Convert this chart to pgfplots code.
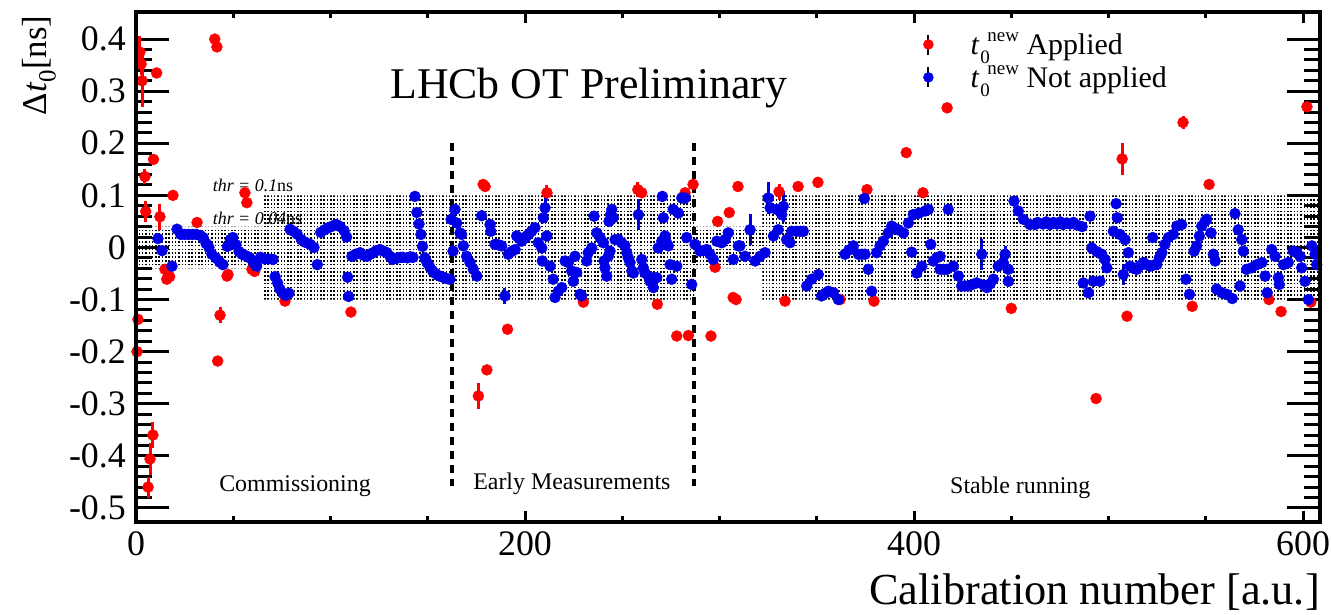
\documentclass[border=0pt]{standalone}
\usepackage{fontspec}
\setmainfont{Liberation Serif}
\usepackage{pgfplots}
\usepackage{pgfplotstable}
\pgfplotsset{compat=1.18}
\usetikzlibrary{patterns}
\definecolor{rootred}{RGB}{255,0,0}
\definecolor{rootblue}{RGB}{0,0,230}
\newcommand{\fs}[1]{\fontsize{#1}{#1}\selectfont}
\newcommand{\tnew}{\textit{t}\hspace{1bp}\rlap{\raisebox{-0.3em}{\fs{19}0}}\hspace{7bp}\raisebox{0.45em}{\fs{19}new}}
\pgfdeclarepatternformonly{rootdots}{\pgfqpoint{-1bp}{-1bp}}{\pgfqpoint{4bp}{4bp}}{\pgfqpoint{3.3bp}{3.8bp}}{%
  \pgfpathrectangle{\pgfqpoint{0bp}{0bp}}{\pgfqpoint{1.5bp}{1.5bp}}\pgfusepath{fill}}

\pgfplotstableread{
x y e
0.5 -0.200 0.010
1.0 -0.138 0.010
2.0 0.375 0.030
2.6 0.352 0.020
3.1 0.320 0.050
4.6 0.136 0.015
5.0 0.069 0.020
6.2 -0.460 0.020
7.2 -0.406 0.030
8.7 -0.360 0.025
9.0 0.169 0.008
10.6 0.335 0.005
12.3 0.059 0.025
14.9 -0.042 0.010
15.8 -0.061 0.010
17.3 -0.056 0.010
19.0 0.100 0.005
31.4 0.048 0.005
40.5 0.400 0.005
41.6 0.385 0.005
42.0 -0.218 0.005
43.2 -0.130 0.015
46.8 -0.055 0.005
47.3 -0.052 0.005
56.0 0.105 0.005
57.0 0.086 0.005
59.6 -0.042 0.005
61.0 -0.046 0.005
76.6 -0.103 0.005
110.5 -0.124 0.005
176.0 -0.285 0.025
178.5 0.121 0.005
179.5 0.117 0.005
180.4 -0.235 0.010
191.0 -0.157 0.005
211.3 0.105 0.015
230.0 -0.105 0.005
258.0 0.111 0.015
260.0 0.105 0.005
268.0 -0.109 0.005
278.0 -0.170 0.005
282.3 0.105 0.005
284.0 -0.169 0.005
286.4 0.121 0.015
295.6 -0.170 0.005
297.7 -0.038 0.005
299.0 0.050 0.005
305.0 0.067 0.005
307.0 -0.096 0.005
308.5 -0.100 0.005
309.5 0.117 0.005
330.6 0.107 0.015
333.7 -0.103 0.005
340.4 0.117 0.005
350.6 0.125 0.010
362.0 -0.100 0.005
375.8 0.111 0.005
379.4 -0.103 0.005
396.0 0.182 0.008
404.6 0.105 0.005
417.0 0.268 0.005
450.0 -0.117 0.005
493.6 -0.290 0.005
507.0 0.170 0.030
509.5 -0.132 0.005
538.3 0.240 0.012
543.0 -0.113 0.005
551.7 0.121 0.005
582.5 -0.100 0.005
588.7 -0.123 0.005
602.0 0.270 0.005
604.0 -0.105 0.005
}\redtab

\pgfplotstableread{
x y e
11.3 0.017 0
13.4 -0.006 0
18.5 -0.036 0
21.1 0.035 0
23.0 0.025 0
25.0 0.025 0
27.0 0.025 0
29.0 0.025 0
31.0 0.025 0
33.0 0.023 0
34.5 0.019 0
36.0 0.008 0
37.5 0.000 0
39.0 -0.013 0
41.0 -0.020 0
43.0 -0.028 0
44.7 -0.033 0
47.0 0.002 0
48.5 0.015 0
49.8 0.019 0
51.4 0.005 0
53.0 -0.008 0
54.5 -0.013 0
56.5 -0.016 0
58.5 -0.020 0
60.5 -0.030 0
62.0 -0.036 0
64.0 -0.019 0
66.0 -0.022 0
68.0 -0.022 0
70.4 -0.023 0
71.5 -0.056 0
72.8 -0.068 0
74.0 -0.080 0
75.5 -0.088 0
77.0 -0.092 0
78.6 -0.088 0
79.2 0.035 0
81.0 0.031 0
82.8 0.026 0
85.0 0.015 0
87.0 0.010 0
89.5 0.006 0
91.5 0.000 0
93.2 -0.033 0
95.0 0.029 0
97.0 0.034 0
99.0 0.038 0
101.0 0.041 0
103.0 0.044 0
105.0 0.040 0
107.0 0.032 0
108.3 0.020 0
108.8 -0.057 0
109.3 -0.094 0
111.0 -0.017 0
113.0 -0.013 0
115.2 -0.010 0
117.0 -0.015 0
118.8 -0.017 0
120.5 -0.013 0
121.9 -0.010 0
123.7 -0.006 0
125.4 -0.004 0
127.2 -0.007 0
129.0 -0.010 0
130.6 -0.017 0
132.0 -0.023 0
134.0 -0.021 0
136.0 -0.019 0
137.3 -0.019 0
139.5 -0.020 0
141.0 -0.018 0
142.4 -0.019 0
143.4 0.098 0.005
144.4 0.067 0
145.5 0.045 0
146.5 0.025 0
147.3 0.002 0
148.5 -0.020 0
149.6 -0.029 0
151.0 -0.037 0
152.5 -0.045 0
154.0 -0.050 0
155.5 -0.054 0
157.0 -0.056 0
158.5 -0.058 0
160.0 -0.060 0
161.4 -0.061 0
162.0 0.054 0
163.0 -0.007 0
164.0 0.073 0
164.9 0.047 0
166.6 0.028 0
167.4 0.025 0
168.3 0.003 0
170.0 -0.017 0
171.7 -0.029 0
173.4 -0.042 0
175.2 -0.055 0
177.7 0.061 0
182.0 0.044 0
182.4 0.031 0
184.6 0.006 0
186.3 0.005 0
188.0 0.003 0
189.7 -0.093 0.015
191.4 -0.013 0
193.0 -0.008 0
194.9 -0.004 0
195.7 0.022 0
197.0 0.017 0
198.3 0.012 0
199.6 0.017 0
200.9 0.022 0
202.2 0.027 0
203.4 0.031 0
205.1 0.038 0
206.8 0.009 0
208.6 -0.001 0
208.9 -0.026 0
209.4 0.057 0
210.3 0.076 0.030
211.2 0.022 0
212.9 -0.036 0
214.5 -0.061 0
215.4 -0.096 0
217.1 -0.084 0
218.9 -0.077 0
220.6 -0.026 0
222.3 -0.029 0
224.0 -0.045 0
224.8 -0.065 0
225.7 -0.017 0
226.6 -0.048 0
228.3 -0.090 0
229.1 -0.093 0
231.7 -0.026 0
232.5 -0.010 0
234.3 -0.001 0
235.5 0.060 0
236.9 0.028 0
238.6 0.019 0
240.3 0.009 0
240.6 -0.026 0
241.1 -0.039 0
242.0 -0.055 0
242.8 -0.017 0
243.2 0.050 0
243.7 -0.007 0
244.0 0.063 0
244.6 0.073 0
245.4 0.057 0
246.3 0.015 0
248.0 0.015 0
249.7 0.009 0
251.4 0.003 0
252.3 -0.010 0
253.1 -0.020 0
254.0 -0.029 0
254.9 -0.045 0
255.7 -0.049 0
258.3 0.063 0.030
260.0 -0.023 0
260.8 -0.039 0
261.7 -0.049 0
263.4 -0.055 0
264.3 -0.065 0
266.0 -0.077 0
267.7 -0.058 0
268.5 -0.001 0
270.3 0.012 0
270.6 0.098 0.010
271.1 0.057 0
272.0 0.022 0
272.8 0.009 0
273.7 0.003 0
274.6 -0.033 0
275.4 -0.061 0
276.2 0.073 0
278.0 -0.036 0
278.8 0.066 0
280.6 0.095 0
282.3 0.095 0
283.1 0.019 0
285.7 -0.071 0
287.4 0.006 0
290.0 -0.007 0
291.7 -0.006 0
293.4 -0.004 0
295.1 -0.013 0
296.8 -0.023 0
298.6 0.012 0
301.1 0.009 0
302.8 0.015 0
304.5 0.028 0
307.1 -0.023 0
309.7 0.003 0
310.5 0.003 0
313.1 -0.017 0
315.7 0.034 0.030
318.3 -0.026 0
320.8 -0.017 0
323.4 -0.010 0
325.1 0.095 0.030
326.0 0.076 0
327.7 0.022 0
329.4 0.073 0
330.2 0.034 0
332.0 0.063 0
332.8 0.079 0.030
334.5 0.015 0
336.2 0.009 0
337.1 0.031 0
339.6 0.031 0
341.5 0.031 0
343.1 0.031 0
344.8 -0.074 0
347.4 -0.061 0
350.8 -0.052 0
352.5 -0.093 0
354.3 -0.088 0
356.0 -0.084 0
358.5 -0.087 0
361.1 -0.100 0
364.5 -0.013 0
366.5 -0.005 0
368.8 0.003 0
371.4 -0.013 0
373.2 -0.013 0
374.5 0.094 0
374.8 -0.013 0
376.5 -0.042 0
378.2 -0.084 0
380.8 -0.010 0
382.5 0.003 0
384.2 0.012 0
386.8 0.028 0
388.5 0.041 0
390.2 0.037 0
391.9 0.034 0
394.5 0.028 0
397.1 0.047 0
398.8 -0.009 0
399.6 0.063 0
401.4 -0.049 0
402.6 0.066 0
404.0 -0.036 0
405.7 0.070 0
407.4 0.073 0
408.6 0.006 0
409.9 -0.026 0
411.6 -0.020 0
413.4 -0.017 0
413.4 -0.042 0
415.1 -0.042 0
416.8 -0.042 0
417.6 0.073 0
420.2 -0.036 0
422.8 -0.055 0
424.5 -0.074 0
426.2 -0.074 0
427.9 -0.074 0
430.0 -0.071 0
432.2 -0.068 0
434.8 -0.013 0.030
435.8 -0.072 0
437.4 -0.077 0
439.1 -0.070 0
440.8 -0.061 0
443.3 -0.036 0
445.9 -0.029 0
446.8 -0.013 0.015
448.5 -0.042 0
448.5 -0.065 0
451.4 0.089 0
453.6 0.070 0
456.2 0.054 0
459.6 0.044 0
462.2 0.044 0
463.5 0.048 0
466.3 0.045 0
468.0 0.049 0
469.9 0.044 0
471.7 0.048 0
473.5 0.045 0
475.2 0.049 0
476.6 0.044 0
478.5 0.047 0
480.2 0.045 0
482.0 0.048 0
483.8 0.043 0
486.4 0.040 0
487.0 -0.068 0
489.6 -0.087 0
490.5 0.060 0
491.4 -0.001 0
492.2 -0.065 0
494.0 -0.008 0
495.6 -0.065 0
496.5 -0.013 0
498.2 -0.023 0
499.1 -0.039 0
502.5 0.031 0
503.9 0.084 0
504.5 0.057 0
505.9 0.025 0
507.6 -0.052 0.020
508.5 0.015 0
510.2 -0.010 0
511.1 -0.036 0
512.8 -0.040 0
514.5 -0.042 0
516.2 -0.035 0
517.9 -0.029 0
519.6 -0.033 0
521.3 -0.036 0
522.7 0.019 0
523.0 -0.034 0
524.8 -0.033 0
526.1 -0.020 0
527.4 -0.010 0
529.0 0.006 0
530.8 0.019 0
533.3 0.025 0
535.1 0.041 0
537.6 0.044 0
539.8 -0.061 0
541.6 -0.090 0
544.0 -0.007 0
545.3 0.003 0
546.7 0.022 0
547.9 0.041 0
549.6 0.050 0
550.5 0.054 0
552.7 0.028 0
553.9 -0.013 0
554.8 -0.026 0
555.6 -0.080 0
558.2 -0.087 0
560.8 -0.090 0
563.6 -0.098 0
565.0 0.065 0
566.7 0.034 0
567.6 -0.074 0
568.5 0.015 0
569.3 -0.007 0
571.0 -0.042 0
573.6 -0.039 0
576.2 -0.033 0
578.8 -0.029 0
580.5 -0.055 0
581.6 -0.087 0
583.9 -0.004 0
585.6 -0.017 0
587.3 -0.058 0
587.8 -0.071 0
589.9 -0.033 0
592.4 -0.029 0
595.0 -0.007 0
596.8 -0.010 0
598.5 -0.017 0
599.3 -0.039 0
601.0 -0.065 0
602.7 -0.100 0
604.5 0.003 0
606.2 -0.013 0
607.0 -0.033 0
}\bluetab

\begin{document}
\begin{tikzpicture}
\path[use as bounding box] (0bp,0bp) rectangle (1331bp,615bp);
\pgfplotsset{
  commonax/.style={
    at={(136bp,93bp)}, anchor=south west, scale only axis,
    width=1184bp, height=510bp,
    xmin=0, xmax=608.7, ymin=-0.527, ymax=0.452,
    axis line style={line width=3.5bp, black},
    tick style={line width=3bp, black},
    tick align=inside,
  }
}
% axis carrying the data and the y ticks
\begin{axis}[commonax,
  xtick=\empty,
  ytick={-0.5,-0.4,-0.3,-0.2,-0.1,0,0.1,0.2,0.3,0.4},
  yticklabels={-0.5,-0.4,-0.3,-0.2,-0.1,0,0.1,0.2,0.3,0.4},
  minor y tick num=4,
  major tick length=33bp, minor tick length=16bp,
  yticklabel style={font=\fs{36}, inner sep=0pt, xshift=-10bp},
  ylabel={Δ\textit{t}\raisebox{-0.25em}{\fs{25}0}[ns]},
  every axis y label/.style={at={(axis description cs:-0.0752,1)}, rotate=90, anchor=base east, font=\fs{35}},
  legend style={draw=none, fill=none, at={(axis description cs:0.6647,0.962)}, anchor=north west,
    font=\fs{30}, row sep=7bp, column sep=36bp, inner sep=0pt, nodes={inner sep=1bp}},
  legend cell align=left,
]
\addplot[only marks, mark=*, mark size=5.5bp, color=rootred,
  mark options={draw=none, fill=rootred},
  legend image code/.code={\draw[black, line width=1.8bp] (0bp,-10bp) -- (0bp,10bp); \fill[rootred] (0bp,0bp) circle (5bp);},
  error bars/.cd, y dir=both, y explicit, error mark=none,
  error bar style={line width=3bp, rootred}]
  table[x=x, y=y, y error=e] {\redtab};
\addlegendentry{\tnew\ Applied}
\addplot[only marks, mark=*, mark size=5.5bp, color=rootblue,
  mark options={draw=none, fill=rootblue},
  legend image code/.code={\draw[black, line width=1.8bp] (0bp,-10bp) -- (0bp,10bp); \fill[rootblue] (0bp,0bp) circle (5bp);},
  error bars/.cd, y dir=both, y explicit, error mark=none,
  error bar style={line width=3bp, rootblue}]
  table[x=x, y=y, y error=e] {\bluetab};
\addlegendentry{\tnew\ Not applied}
% threshold bands
\addplot[draw=none, pattern=rootdots, pattern color=black, forget plot] coordinates {
 (0,-0.04) (65,-0.04) (65,-0.1) (287,-0.1) (287,-0.04) (322,-0.04) (322,-0.1) (608.7,-0.1)
 (608.7,0.1) (322,0.1) (322,0.04) (287,0.04) (287,0.1) (65,0.1) (65,0.04) (0,0.04)} -- cycle;
\draw[black, line width=3.5bp, dash pattern=on 8bp off 6bp] (axis cs:162.5,0.2) -- (axis cs:162.5,-0.458);
\draw[black, line width=3.5bp, dash pattern=on 8bp off 6bp] (axis cs:287,0.2) -- (axis cs:287,-0.458);
\node[anchor=base west, font=\fs{44}, inner sep=0pt] at (axis cs:130.6,0.2854) {LHCb OT Preliminary};
\node[anchor=base west, font=\fs{18}, inner sep=0pt] at (axis cs:39.4,0.107) {\textit{thr = 0.1}ns};
\node[anchor=base west, font=\fs{18}, inner sep=0pt] at (axis cs:39.4,0.044) {\textit{thr = 0.04}ns};
\node[anchor=base west, font=\fs{24}, inner sep=0pt] at (axis cs:42.7,-0.469) {Commissioning};
\node[anchor=base west, font=\fs{24}, inner sep=0pt] at (axis cs:173.3,-0.464) {Early Measurements};
\node[anchor=base west, font=\fs{24}, inner sep=0pt] at (axis cs:418.5,-0.473) {Stable running};
\end{axis}
% axis carrying the x ticks
\begin{axis}[commonax,
  ytick=\empty,
  xtick={0,200,400,600},
  xticklabels={0,200,400,600},
  minor x tick num=3,
  major tick length=11bp, minor tick length=6bp,
  xticklabel style={font=\fs{36}, inner sep=0pt, yshift=-9bp},
  xlabel={Calibration number [a.u.]},
  every axis x label/.style={at={(axis description cs:1,-0.1627)}, anchor=base east, font=\fs{44.5}, inner sep=0pt},
]
\end{axis}
\end{tikzpicture}
\end{document}
